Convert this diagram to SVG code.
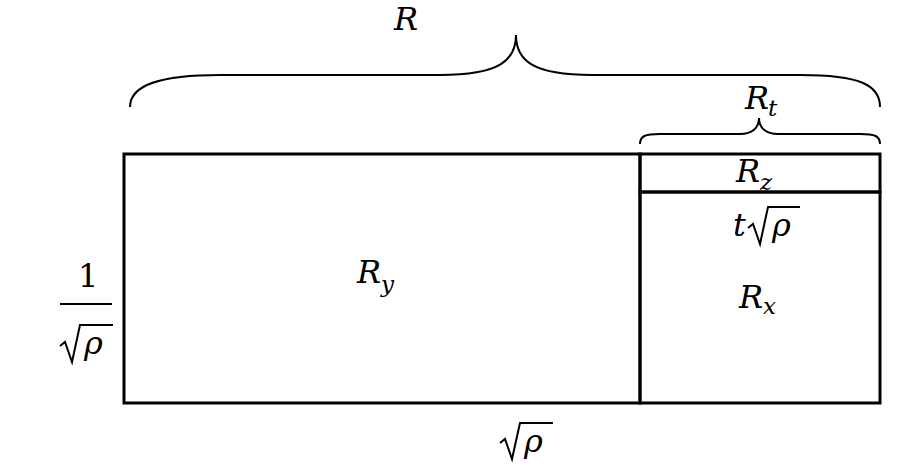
<svg xmlns="http://www.w3.org/2000/svg" width="906" height="469" viewBox="0 0 906 469">
<style>
.l{fill:none;stroke:#000;stroke-width:3}
.b{fill:none;stroke:#000;stroke-width:2}
text{font-family:"DejaVu Serif",serif;font-size:32px;fill:#000}
.i{font-style:italic}
.s{font-style:italic;font-size:23px}
</style>
<rect width="906" height="469" fill="#fff"/>
<g id="connectors">
<path class="b" d="M130,107 C130,85 160,75 220,75 L440,75 C500,75 516,60 516,35 C516,60 532,75 592,75 L800,75 C860,75 880,85 880,107"/>
<path class="b" d="M640,144 C640,136 645,134 660,134 L740,134 C752,134 759,128 759,118 C759,128 766,134 778,134 L860,134 C875,134 880,136 880,144"/>
</g>
<g id="Ry"><rect class="l" x="124" y="154" width="516" height="249"/><text class="i" x="357" y="283">R</text><text class="s" x="381" y="292">y</text></g>
<g id="Rz"><rect class="l" x="640" y="154" width="240" height="38"/><text class="i" x="736" y="182">R</text><text class="s" x="760" y="190">z</text></g>
<g id="Rx"><rect class="l" x="640" y="192" width="240" height="211"/>
<text class="i" x="733" y="236">t</text><path class="b" d="M748,228 L753,224 L760,244 L768,207 L800,207"/><text class="i" x="772" y="236">ρ</text>
<text class="i" x="739" y="308">R</text><text class="s" x="763" y="314">x</text></g>
<g id="R"><text class="i" x="394" y="30">R</text></g>
<g id="Rt"><text class="i" x="745" y="109">R</text><text class="s" x="768" y="116">t</text></g>
<g id="left"><text x="78" y="287">1</text><path class="b" d="M60,304 L112,304"/><path class="b" d="M60,346 L65,342 L72,362 L80,325 L113,325"/><text class="i" x="84" y="354">ρ</text></g>
<g id="bottom"><path class="b" d="M500,443 L505,439 L512,459 L520,423 L553,423"/><text class="i" x="524" y="452">ρ</text></g>
</svg>
